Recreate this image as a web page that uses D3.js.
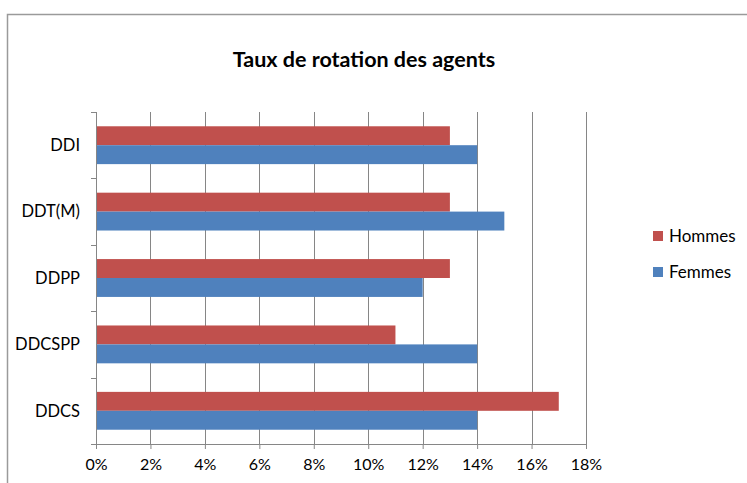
<html>
<head>
<script src="https://d3js.org/d3.v7.min.js"></script>
<style>
  body { margin: 0; background: #fff; }
  text { font-family: Lato, "Open Sans", sans-serif; fill: #000; }
</style>
</head>
<body>
<div id="chart"></div>
<script>
// data (percent)
const categories = ["DDI", "DDT(M)", "DDPP", "DDCSPP", "DDCS"];
const hommes = [13, 13, 13, 11, 17];
const femmes = [14, 15, 12, 14, 14];
const seriesNames = ["Hommes", "Femmes"];
const colors = ["#C0504D", "#4F81BD"];
const ticks = [0, 2, 4, 6, 8, 10, 12, 14, 16, 18];

const W = 747, H = 483;
const margin = { top: 112, left: 96, right: 161, bottom: 39 };
const width = W - margin.left - margin.right,
      height = H - margin.top - margin.bottom;

const svg = d3.select("#chart").append("svg")
  .attr("width", W).attr("height", H);

// outer chart frame (cropped on right and bottom)
svg.append("path")
  .attr("d", "M7.5," + H + "V14.5H" + W)
  .attr("fill", "none").attr("stroke", "#9a9a9a").attr("stroke-width", 1.5);

svg.append("text")
  .attr("x", 364).attr("y", 67)
  .attr("text-anchor", "middle")
  .style("font-weight", "bold").style("font-size", "21.5px")
  .text("Taux de rotation des agents");

const g = svg.append("g")
  .attr("transform", "translate(" + margin.left + "," + margin.top + ")");

const x = d3.scaleLinear().domain([0, 18]).range([0, width]);
const y = d3.scaleBand().domain(categories).range([0, height]).paddingInner(0.43).paddingOuter(0.215);
const ySub = d3.scaleBand().domain(seriesNames).range([0, y.bandwidth()]);

// gridlines
g.selectAll(".grid")
  .data(ticks.slice(1))
  .enter().append("line")
  .attr("x1", d => Math.round(x(d)) + 0.5).attr("x2", d => Math.round(x(d)) + 0.5)
  .attr("y1", 0).attr("y2", height)
  .attr("stroke", "#868686");

const rows = categories.map((c, i) => ({ cat: c, vals: [hommes[i], femmes[i]] }));

const grp = g.selectAll(".cat")
  .data(rows)
  .enter().append("g")
  .attr("transform", d => "translate(0," + y(d.cat) + ")");

grp.selectAll("rect")
  .data(d => d.vals.map((v, j) => ({ name: seriesNames[j], v: v, c: colors[j] })))
  .enter().append("rect")
  .attr("x", x(0) + 1)
  .attr("y", d => ySub(d.name))
  .attr("width", d => x(d.v) - x(0) - 1)
  .attr("height", ySub.bandwidth())
  .attr("fill", d => d.c);

// x axis
const xAxis = g.append("g")
  .attr("transform", "translate(0," + height + ")")
  .call(d3.axisBottom(x).tickValues(ticks).tickFormat(d => d + "%").tickSizeOuter(0).tickSize(5).tickPadding(10));
xAxis.select(".domain").attr("stroke", "#868686").attr("d", "M-5,0.5H" + (width + 0.5));
xAxis.selectAll(".tick line").attr("stroke", "#868686");
xAxis.selectAll("text").style("font-size", "16px").attr("fill", "#000");

// y axis with ticks at category boundaries
const bounds = d3.range(categories.length + 1).map(i => i * height / categories.length);
const yAx = g.append("g");
yAx.append("line").attr("x1", 0.5).attr("x2", 0.5).attr("y1", 0).attr("y2", height)
  .attr("stroke", "#868686");
yAx.selectAll(".yt").data(bounds).enter().append("line")
  .attr("x1", -5).attr("x2", 0.5)
  .attr("y1", d => Math.round(d) + 0.5).attr("y2", d => Math.round(d) + 0.5)
  .attr("stroke", "#868686");
yAx.selectAll(".yl").data(categories).enter().append("text")
  .attr("x", -16)
  .attr("y", d => y(d) + y.bandwidth() / 2)
  .attr("dy", "0.35em")
  .attr("text-anchor", "end")
  .style("font-size", "16.5px")
  .text(d => d);

// legend
const leg = svg.append("g").attr("transform", "translate(653,231)");
seriesNames.forEach((n, i) => {
  leg.append("rect").attr("x", 0).attr("y", i * 36).attr("width", 10).attr("height", 10).attr("fill", colors[i]);
  leg.append("text").attr("x", 16).attr("y", i * 36 + 5).attr("dy", "0.35em")
    .style("font-size", "17px").text(n);
});
</script>
</body>
</html>
